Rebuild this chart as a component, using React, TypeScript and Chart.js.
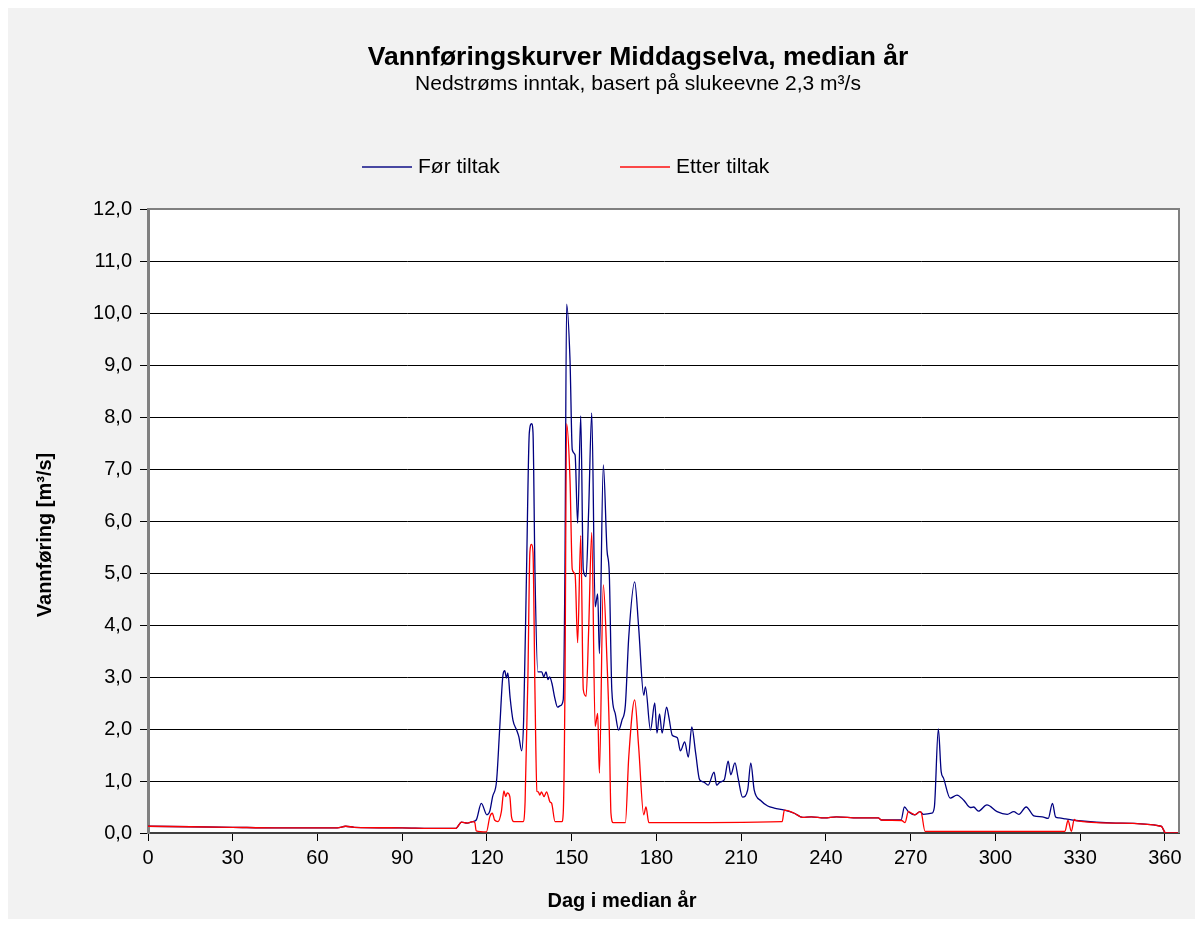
import { useEffect, useRef } from "react";
import { Chart, registerables } from "chart.js";

Chart.register(...registerables);

// Dag i median år / vannføring (m³/s) før tiltak
const forDays = [
  0, 15, 30, 45, 60, 67, 70, 73, 90, 100,
  109, 111, 113, 115, 116.2, 118, 120, 121, 122, 123.4,
  124.5, 125.7, 126.3, 126.9, 127.4, 128.2, 129.2, 130.5, 131.3, 132.3,
  133, 134, 135, 135.8, 136.3, 137, 138, 139.4, 140.1, 140.9,
  141.6, 142.2, 143, 144, 145, 146, 147, 147.6, 148.2, 149.4,
  150.2, 151.2, 152.1, 153.2, 154.1, 155.1, 156, 157.1, 158.3, 159.2,
  159.8, 161.2, 162.5, 163.3, 164.2, 165.4, 166.6, 167.8, 169, 170.2,
  172.3, 173.7, 175.5, 176.1, 177.9, 179.4, 180.2, 181.1, 182, 183.6,
  184.4, 185.6, 187.4, 188.5, 190, 191.3, 192.5, 193.9, 195.3, 196.8,
  198.3, 200.4, 201.3, 202.5, 204, 205.4, 206.3, 207.8, 208.9, 210.5,
  212.3, 213.4, 214.6, 217, 219.4, 221.7, 225.3, 228.8, 231.8, 234.8,
  239.5, 243.7, 251.4, 258.5, 259.7, 266.6, 267.8, 269.2, 271.5, 273.3,
  274.5, 277.5, 278.4, 279.8, 280.8, 281.6, 284, 286.4, 288.8, 291.1,
  292.3, 294, 297, 300.6, 304.2, 306.5, 308.3, 310.9, 313.6, 316.6,
  318.7, 320.2, 321.3, 322.6, 324.9, 328.5, 342.7, 358.7, 360.3, 365,
];
const forFlow = [
  0.13, 0.12, 0.11, 0.1, 0.1, 0.1, 0.13, 0.11, 0.1, 0.09,
  0.09, 0.21, 0.19, 0.22, 0.25, 0.57, 0.35, 0.42, 0.7, 1.0,
  2.0, 3.05, 3.12, 2.98, 3.08, 2.6, 2.17, 1.98, 1.85, 1.58,
  2.2, 5.0, 7.7, 7.87, 7.7, 5.0, 3.1, 3.1, 3.0, 3.1,
  2.95, 3.0, 2.88, 2.6, 2.42, 2.45, 2.56, 5.0, 10.17, 9.1,
  7.37, 7.27, 5.96, 8.02, 5.06, 4.93, 6.2, 8.08, 4.35, 4.6,
  3.45, 7.08, 5.44, 5.0, 2.75, 2.3, 1.98, 2.17, 2.46, 3.77,
  4.83, 3.96, 2.65, 2.81, 1.98, 2.5, 1.92, 2.29, 1.92, 2.42,
  2.23, 1.88, 1.83, 1.58, 1.75, 1.46, 2.04, 1.53, 1.02, 0.98,
  0.92, 1.17, 0.92, 0.98, 1.02, 1.38, 1.12, 1.35, 1.06, 0.69,
  0.83, 1.35, 0.83, 0.62, 0.52, 0.48, 0.44, 0.38, 0.3, 0.31,
  0.29, 0.31, 0.29, 0.29, 0.25, 0.25, 0.5, 0.41, 0.35, 0.41,
  0.36, 0.38, 0.5, 2.0, 1.18, 1.06, 0.67, 0.73, 0.63, 0.49,
  0.5, 0.42, 0.54, 0.41, 0.36, 0.41, 0.36, 0.5, 0.33, 0.31,
  0.28, 0.57, 0.31, 0.29, 0.27, 0.24, 0.19, 0.13, 0.0, 0.0,
];

// Dag i median år / vannføring (m³/s) etter tiltak
const etterDays = [
  0, 15, 30, 45, 60, 67, 70, 73, 90, 100,
  109, 111, 113, 115, 115.7, 116.2, 119.8, 121, 121.9, 122.7,
  123.9, 125.1, 126, 126.6, 127.2, 128.1, 128.7, 129.5, 132.8, 133.5,
  134.5, 135.2, 135.8, 136.3, 137, 137.7, 138.2, 138.7, 139.3, 140.2,
  141.1, 142.3, 142.9, 144.1, 146.5, 147, 147.6, 148.2, 149.4, 150.2,
  151.2, 152.1, 153.2, 154.1, 155.1, 156, 157.1, 158.3, 159.2, 159.8,
  161.2, 162.5, 163.3, 163.9, 164.7, 169, 170.2, 172.3, 173.7, 175.5,
  176.3, 177.3, 224.5, 225.3, 228.8, 231.8, 234.8, 239.5, 243.7, 251.4,
  258.5, 259.7, 266.8, 268, 269.2, 271.5, 273.3, 273.7, 275.1, 324.6,
  325.7, 326.9, 327.9, 328.5, 342.7, 358.7, 360.3, 365,
];
const etterFlow = [
  0.13, 0.12, 0.11, 0.1, 0.1, 0.1, 0.13, 0.11, 0.1, 0.09,
  0.09, 0.21, 0.19, 0.22, 0.2, 0.04, 0.02, 0.31, 0.38, 0.25,
  0.22, 0.41, 0.81, 0.7, 0.77, 0.7, 0.31, 0.22, 0.22, 0.6,
  3.0, 5.4, 5.55, 5.4, 2.7, 0.8, 0.79, 0.73, 0.79, 0.7,
  0.79, 0.6, 0.57, 0.22, 0.22, 0.38, 2.7, 7.87, 6.8, 5.07,
  4.97, 3.66, 5.72, 2.76, 2.63, 3.9, 5.78, 2.05, 2.3, 1.15,
  4.77, 3.3, 2.0, 0.38, 0.2, 0.2, 1.46, 2.56, 1.66, 0.35,
  0.5, 0.2, 0.22, 0.44, 0.38, 0.3, 0.31, 0.29, 0.31, 0.29,
  0.29, 0.25, 0.24, 0.2, 0.41, 0.35, 0.41, 0.4, 0.03, 0.03,
  0.24, 0.03, 0.26, 0.24, 0.19, 0.13, 0.0, 0.0,
];

const dayTicks = [0, 30, 60, 90, 120, 150, 180, 210, 240, 270, 300, 330, 360];

const FONT = "'Liberation Sans', Arial, sans-serif";
const W = 1187;
const H = 911;

const frame = {
  id: "frame",
  beforeDraw(chart: any) {
    const { ctx, chartArea: a } = chart;
    ctx.save();
    ctx.fillStyle = "#f2f2f2";
    ctx.fillRect(0, 0, chart.width, chart.height);
    ctx.fillStyle = "#ffffff";
    ctx.fillRect(a.left, a.top, a.right - a.left, a.bottom - a.top);
    ctx.restore();
  },
  afterDraw(chart: any) {
    const { ctx, chartArea: a } = chart;
    ctx.save();
    ctx.strokeStyle = "#808080";
    ctx.lineWidth = 2;
    ctx.beginPath();
    ctx.moveTo(a.left, a.top);
    ctx.lineTo(a.right, a.top);
    ctx.lineTo(a.right, a.bottom);
    ctx.stroke();

    ctx.fillStyle = "#000";
    ctx.textAlign = "center";
    ctx.textBaseline = "middle";
    ctx.font = `bold 26.5px ${FONT}`;
    ctx.fillText("Vannføringskurver Middagselva, median år", 630, 50);
    ctx.font = `21px ${FONT}`;
    ctx.fillText("Nedstrøms inntak, basert på slukeevne 2,3 m³/s", 630, 76);

    // forklaring
    ctx.textAlign = "left";
    ctx.font = `21px ${FONT}`;
    const items = [
      { x: 354, color: "#000080", text: "Før tiltak" },
      { x: 612, color: "#ff0000", text: "Etter tiltak" },
    ];
    for (const it of items) {
      ctx.strokeStyle = it.color;
      ctx.globalAlpha = 0.7;
      ctx.lineWidth = 2;
      ctx.beginPath();
      ctx.moveTo(it.x, 159);
      ctx.lineTo(it.x + 50, 159);
      ctx.stroke();
      ctx.globalAlpha = 1;
      ctx.fillText(it.text, it.x + 56, 159);
    }

    // aksetitler
    ctx.font = `bold 20px ${FONT}`;
    ctx.textAlign = "center";
    ctx.fillText("Dag i median år", 614, 893);
    ctx.save();
    ctx.translate(37, (a.top + a.bottom) / 2 + 14);
    ctx.rotate(-Math.PI / 2);
    ctx.fillText("Vannføring [m³/s]", 0, 0);
    ctx.restore();
    ctx.restore();
  },
};

export default function App() {
  const ref = useRef<HTMLCanvasElement>(null);
  useEffect(() => {
    const chart = new Chart(ref.current!, {
      type: "line",
      data: {
        datasets: [
          {
            label: "Etter tiltak",
            data: etterDays.map((d, i) => ({ x: d, y: etterFlow[i] })),
            borderColor: "#ff0000",
            borderWidth: 1.3,
            pointRadius: 0,
            cubicInterpolationMode: "monotone",
            order: 0,
          },
          {
            label: "Før tiltak",
            data: forDays.map((d, i) => ({ x: d, y: forFlow[i] })),
            borderColor: "#000080",
            borderWidth: 1.3,
            pointRadius: 0,
            cubicInterpolationMode: "monotone",
            order: 1,
          },
        ],
      },
      options: {
        responsive: false,
        animation: false,
        layout: { padding: { left: 0, top: 201, right: 16, bottom: 0 } },
        plugins: {
          legend: { display: false },
          title: { display: false },
          tooltip: { enabled: false },
        },
        scales: {
          x: {
            type: "linear",
            min: 0,
            max: 365,
            afterBuildTicks(scale: any) {
              scale.ticks = dayTicks.map((v) => ({ value: v }));
            },
            ticks: {
              color: "#000",
              font: { family: FONT, size: 20 },
              padding: 5,
              maxRotation: 0,
              autoSkip: false,
            },
            grid: { drawOnChartArea: false, drawTicks: true, tickLength: 8, color: "#000" },
            border: { color: "#404040", width: 2 },
            afterFit(scale: any) {
              scale.height = 86;
            },
          },
          y: {
            min: 0,
            max: 12,
            ticks: {
              stepSize: 1,
              color: "#000",
              font: { family: FONT, size: 20 },
              padding: 8,
              callback: (v: any) => Number(v).toFixed(1).replace(".", ","),
            },
            grid: { color: "#000", lineWidth: 1, tickLength: 8, drawTicks: true },
            border: { color: "#808080", width: 3 },
            afterFit(scale: any) {
              scale.width = 140;
            },
          },
        },
      },
      plugins: [frame],
    } as any);
    return () => chart.destroy();
  }, []);
  return <canvas ref={ref} width={W} height={H} style={{ display: "block" }} />;
}
